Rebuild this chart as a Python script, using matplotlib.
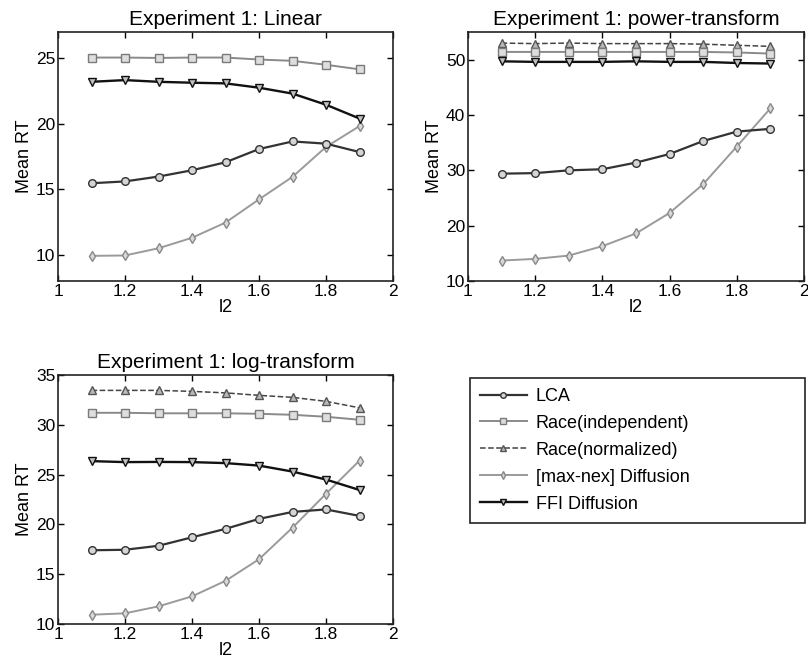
import matplotlib
matplotlib.use("Agg")
import matplotlib.pyplot as plt
from matplotlib.lines import Line2D

plt.rcParams['font.family'] = ['Liberation Sans', 'DejaVu Sans']

l2 = [1.1, 1.2, 1.3, 1.4, 1.5, 1.6, 1.7, 1.8, 1.9]

# Experiment 1: Linear
lin_lca = [15.46, 15.6, 15.97, 16.45, 17.06, 18.07, 18.65, 18.48, 17.84]
lin_race_ind = [25.05, 25.05, 25.02, 25.05, 25.05, 24.9, 24.8, 24.5, 24.15]
lin_diff = [9.92, 9.95, 10.5, 11.3, 12.46, 14.23, 15.95, 18.23, 19.82]
lin_ffi = [23.2, 23.33, 23.2, 23.13, 23.08, 22.75, 22.3, 21.45, 20.4]

# Experiment 1: power-transform
pow_lca = [29.4, 29.5, 30.0, 30.2, 31.4, 32.95, 35.3, 37.0, 37.5]
pow_race_ind = [51.4, 51.4, 51.4, 51.4, 51.4, 51.4, 51.4, 51.3, 51.1]
pow_race_norm = [53.0, 52.9, 53.0, 52.9, 52.9, 52.9, 52.8, 52.6, 52.4]
pow_diff = [13.7, 14.0, 14.6, 16.3, 18.6, 22.3, 27.5, 34.3, 41.2]
pow_ffi = [49.7, 49.6, 49.6, 49.6, 49.7, 49.6, 49.6, 49.4, 49.3]

# Experiment 1: log-transform
log_lca = [17.4, 17.45, 17.85, 18.7, 19.55, 20.55, 21.25, 21.5, 20.85]
log_race_ind = [31.2, 31.2, 31.15, 31.15, 31.15, 31.1, 31.0, 30.8, 30.5]
log_race_norm = [33.45, 33.45, 33.45, 33.35, 33.2, 32.95, 32.75, 32.35, 31.7]
log_diff = [10.93, 11.07, 11.77, 12.77, 14.33, 16.5, 19.67, 23.07, 26.4]
log_ffi = [26.35, 26.25, 26.27, 26.25, 26.15, 25.9, 25.3, 24.5, 23.45]

labels = ['LCA', 'Race(independent)', 'Race(normalized)', '[max-nex] Diffusion', 'FFI Diffusion']

styles = {
    'LCA': dict(color='#333333', marker='o', ls='-', lw=1.6, mfc='#d5d5d5', mec='#333333'),
    'Race(independent)': dict(color='#8a8a8a', marker='s', ls='-', lw=1.4, mfc='#dedede', mec='#7a7a7a'),
    'Race(normalized)': dict(color='#444444', marker='^', ls='--', lw=1.1, mfc='#b8b8b8', mec='#555555'),
    '[max-nex] Diffusion': dict(color='#9a9a9a', marker='d', ls='-', lw=1.4, mfc='#d8d8d8', mec='#888888'),
    'FFI Diffusion': dict(color='#111111', marker='v', ls='-', lw=1.7, mfc='#c0c0c0', mec='#111111'),
}

fig = plt.figure(figsize=(8.08, 6.68), dpi=100)
fig.patch.set_facecolor('white')

def setup(ax, title, ylim, yticks):
    ax.set_xlim(1, 2)
    ax.set_ylim(*ylim)
    ax.set_xticks([1, 1.2, 1.4, 1.6, 1.8, 2])
    ax.set_xticklabels(['1', '1.2', '1.4', '1.6', '1.8', '2'])
    ax.set_yticks(yticks)
    ax.tick_params(direction='in', top=True, right=True, labelsize=12.5, length=4, width=1, pad=2)
    for s in ax.spines.values():
        s.set_linewidth(1.2)
        s.set_color('#222222')
    ax.set_title(title, fontsize=15, pad=5)
    ax.set_xlabel('l2', fontsize=13, labelpad=0)
    ax.set_ylabel('Mean RT', fontsize=13, labelpad=2)

def draw(ax, series):
    for name, vals in series:
        st = styles[name]
        ax.plot(l2, vals, linestyle=st['ls'], color=st['color'], lw=st['lw'], marker=st['marker'],
                ms=5.5, mfc=st['mfc'], mec=st['mec'], mew=1.0, label=name)

ax1 = fig.add_axes([0.0718, 0.5793, 0.4146, 0.3728])
draw(ax1, [('Race(independent)', lin_race_ind), ('[max-nex] Diffusion', lin_diff),
           ('LCA', lin_lca), ('FFI Diffusion', lin_ffi)])
setup(ax1, 'Experiment 1: Linear', (8, 27), [10, 15, 20, 25])

ax2 = fig.add_axes([0.5792, 0.5793, 0.4158, 0.3728])
draw(ax2, [('Race(normalized)', pow_race_norm), ('Race(independent)', pow_race_ind),
           ('[max-nex] Diffusion', pow_diff), ('LCA', pow_lca), ('FFI Diffusion', pow_ffi)])
setup(ax2, 'Experiment 1: power-transform', (10, 55), [10, 20, 30, 40, 50])

ax3 = fig.add_axes([0.0718, 0.0659, 0.4146, 0.3728])
draw(ax3, [('Race(normalized)', log_race_norm), ('Race(independent)', log_race_ind),
           ('[max-nex] Diffusion', log_diff), ('LCA', log_lca), ('FFI Diffusion', log_ffi)])
setup(ax3, 'Experiment 1: log-transform', (10, 35), [10, 15, 20, 25, 30, 35])

handles = []
for name in labels:
    st = styles[name]
    handles.append(Line2D([], [], linestyle=st['ls'], color=st['color'], lw=st['lw'],
                          marker=st['marker'], ms=4, mfc=st['mfc'], mec=st['mec'], mew=1.0))
leg = fig.legend(handles, labels, loc='upper left',
                 bbox_to_anchor=(0.5817, 0.2171, 0.4146, 0.2171), mode='expand',
                 fontsize=13, handlelength=2.6, labelspacing=0.55, borderpad=0.55,
                 handletextpad=0.5, fancybox=False, framealpha=1, borderaxespad=0)
leg.get_frame().set_edgecolor('#222222')
leg.get_frame().set_linewidth(1.2)

fig.savefig('out.png', dpi=100, facecolor='white')
